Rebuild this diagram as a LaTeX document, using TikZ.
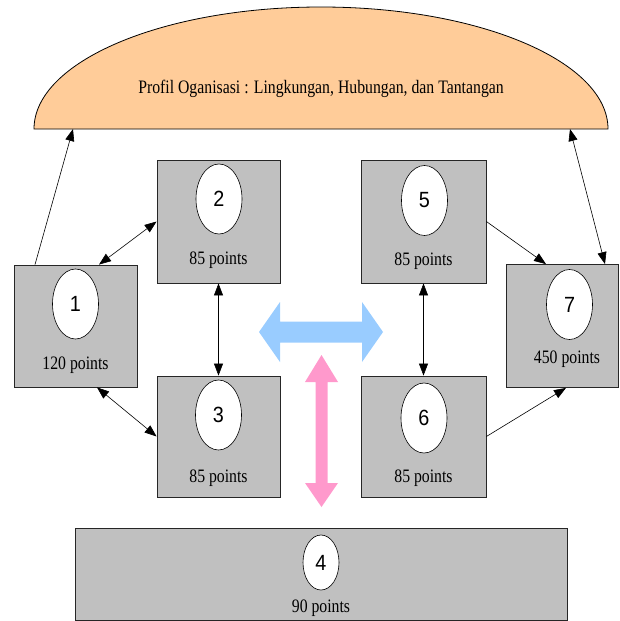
\documentclass[tikz,border=0pt]{standalone}
\usepackage{fontspec}
\setmainfont{Liberation Serif}[FakeStretch=0.83]
\newfontfamily\digitfont{Liberation Sans}[FakeStretch=0.9]
\usetikzlibrary{shapes.geometric,arrows.meta}
\definecolor{boxgray}{HTML}{C0C0C0}
\definecolor{domefill}{HTML}{FFCC99}
\definecolor{flowblue}{HTML}{99CCFF}
\definecolor{flowpink}{HTML}{FF99CC}
\tikzset{
  unitbox/.style={draw=black!85, line width=0.8pt, fill=boxgray, inner sep=0pt},
  badge/.style={draw=black, line width=0.6pt, fill=white, ellipse, inner sep=0pt,
    minimum width=46pt, minimum height=70pt, font=\digitfont\fontsize{22}{24}\selectfont},
  smallbadge/.style={badge, minimum width=36pt, minimum height=55pt},
  pts/.style={anchor=base, inner sep=0pt, font=\fontsize{19}{22}\selectfont},
  link/.style={line width=0.6pt, -{Triangle[length=12pt,width=9pt]}},
  link2/.style={line width=0.6pt, {Triangle[length=12pt,width=9pt]}-{Triangle[length=12pt,width=9pt]}},
}
\begin{document}
\begin{tikzpicture}[x=1pt,y=-1pt]
\useasboundingbox (0,0) rectangle (619,621);

% top dome
\draw[fill=domefill, line width=0.8pt] (34,129) arc[start angle=180, end angle=360, x radius=287, y radius=122] -- cycle;
\node[inner sep=0pt, font=\fontsize{19}{22}\selectfont] (dome) at (321,89) {Profil Oganisasi : Lingkungan, Hubungan, dan Tantangan};
\coordinate (domeL) at (73,129);
\coordinate (domeR) at (570,129);

% boxes
\node[unitbox, minimum width=123pt, minimum height=122pt] (b1) at (75.5,326) {};
\node[unitbox, minimum width=123pt, minimum height=123pt] (b2) at (218.5,221.5) {};
\node[unitbox, minimum width=123pt, minimum height=121pt] (b3) at (218.5,436.5) {};
\node[unitbox, minimum width=492pt, minimum height=92pt] (b4) at (321,574) {};
\node[unitbox, minimum width=125pt, minimum height=123pt] (b5) at (423.5,221.5) {};
\node[unitbox, minimum width=125pt, minimum height=121pt] (b6) at (423.5,436.5) {};
\node[unitbox, minimum width=112pt, minimum height=123pt] (b7) at (562,326) {};

% numbered badges
\node[badge] (e1) at (75.5,304) {1};
\node[badge] (e2) at (219,199) {2};
\node[badge] (e3) at (218.5,415) {3};
\node[smallbadge] (e4) at (321,562.5) {4};
\node[badge] (e5) at (424.5,200.5) {5};
\node[badge] (e6) at (424,418) {6};
\node[badge] (e7) at (569.5,304.5) {7};

% point labels
\node[pts] (p1) at (75.5,369) {120 points};
\node[pts] (p2) at (218.5,264) {85 points};
\node[pts] (p3) at (218.5,482) {85 points};
\node[pts] (p4) at (321,612) {90 points};
\node[pts] (p5) at (423.5,265) {85 points};
\node[pts] (p6) at (423.5,482) {85 points};
\node[pts] (p7) at (567,363) {450 points};

% connectors
\draw[link] ([xshift=-40.5pt]b1.north) -- (domeL);
\draw[link2] ([xshift=23.5pt]b1.north) -- (b2.west);
\draw[link2] ([xshift=21.5pt]b1.south) -- (b3.west);
\draw[link2] (b2.south) -- (b3.north);
\draw[link2] (b5.south) -- (b6.north);
\draw[link] (b5.east) -- ([xshift=-16pt]b7.north);
\draw[link] (b6.east) -- ([xshift=4pt]b7.south);
\draw[link2] ([xshift=43pt]b7.north) -- (domeR);

% broad two-way arrows
\fill[flowblue] (259,332) -- (280,302) -- (280,321.5) -- (362,321.5) -- (362,302)
  -- (383,332) -- (362,362) -- (362,342.5) -- (280,342.5) -- (280,362) -- cycle;
\fill[flowpink] (321.5,355) -- (338,382) -- (327.5,382) -- (327.5,483) -- (338,483)
  -- (321.5,507) -- (305,483) -- (315.5,483) -- (315.5,382) -- (305,382) -- cycle;
\end{tikzpicture}
\end{document}
